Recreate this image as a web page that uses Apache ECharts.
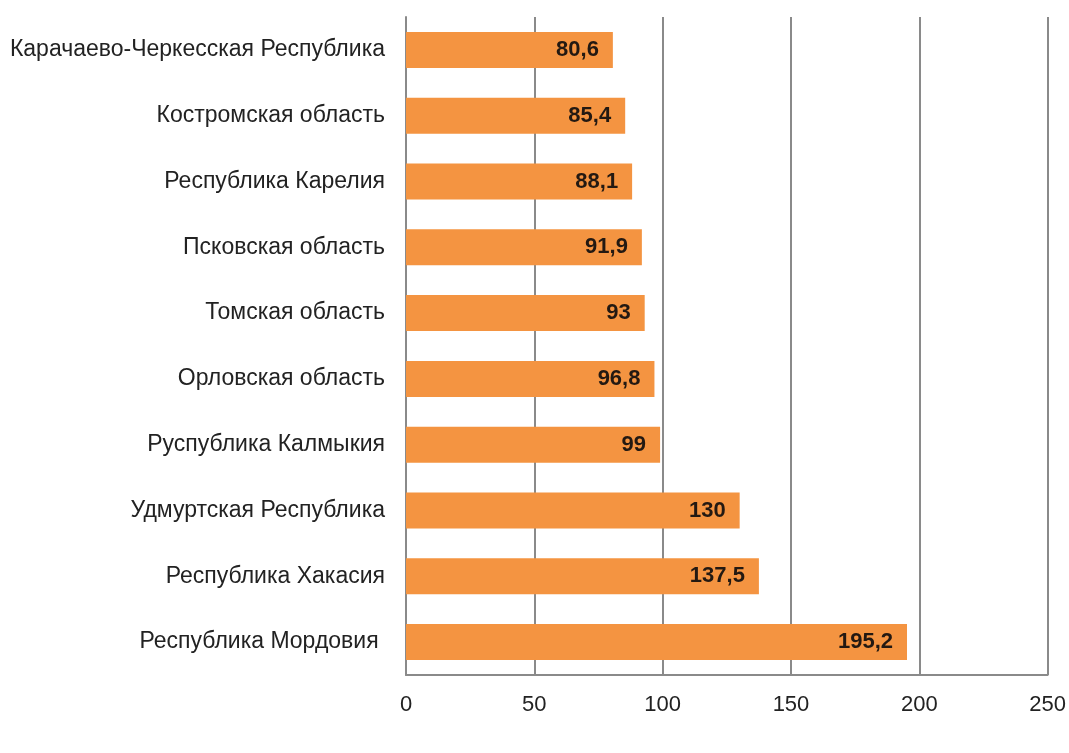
<!DOCTYPE html>
<html>
<head>
<meta charset="utf-8">
<script src="https://cdn.jsdelivr.net/npm/echarts@6/dist/echarts.min.js"></script>
<style>
  html, body { margin: 0; padding: 0; background: #ffffff; }
  #chart { width: 1069px; height: 753px; }
</style>
</head>
<body>
<div id="chart"></div>
<script>
// Regions, listed top to bottom
const regions = [
  'Карачаево-Черкесская Республика',
  'Костромская область',
  'Республика Карелия',
  'Псковская область',
  'Томская область',
  'Орловская область',
  'Руспублика Калмыкия',
  'Удмуртская Республика',
  'Республика Хакасия',
  'Республика Мордовия '
];
const values = [80.6, 85.4, 88.1, 91.9, 93, 96.8, 99, 130, 137.5, 195.2];
const axisTicks = [0, 50, 100, 150, 200, 250];

const chart = echarts.init(document.getElementById('chart'));
const fmt = v => String(v).replace('.', ',');

chart.setOption({
  animation: false,
  backgroundColor: '#ffffff',
  grid: { left: 406, right: 21, top: 17, bottom: 78 },
  xAxis: {
    type: 'value',
    min: axisTicks[0],
    max: axisTicks[axisTicks.length - 1],
    interval: 50,
    axisLine: { show: true, lineStyle: { color: '#8a8a8a', width: 2 } },
    axisTick: { show: false },
    axisLabel: { margin: 19, fontFamily: 'Liberation Sans', fontSize: 22, color: '#222' },
    splitLine: { show: true, lineStyle: { color: '#8a8a8a', width: 2 } }
  },
  yAxis: {
    type: 'category',
    inverse: true,
    data: regions,
    axisLine: { show: true, lineStyle: { color: '#8a8a8a', width: 2 } },
    axisTick: { show: false },
    axisLabel: { margin: 21, fontFamily: 'Liberation Sans', fontSize: 23, color: '#222' }
  },
  series: [{
    type: 'bar',
    data: values,
    barWidth: 36,
    itemStyle: { color: '#f49441' },
    label: {
      show: true,
      position: 'insideRight',
      distance: 14,
      formatter: p => fmt(p.value),
      fontFamily: 'Liberation Sans',
      fontWeight: 'bold',
      fontSize: 22,
      color: '#231912'
    }
  }]
});
</script>
</body>
</html>
